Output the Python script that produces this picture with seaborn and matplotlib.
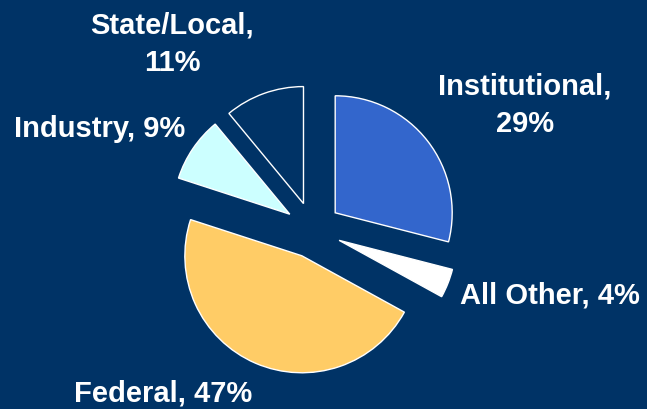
import matplotlib
matplotlib.use("Agg")
import matplotlib.pyplot as plt
import seaborn as sns

# data (clockwise from 12 o'clock)
categories = ["Institutional", "All Other", "Federal", "Industry", "State/Local"]
shares = [29, 4, 47, 9, 11]

# styling
bg = "#003366"
slice_colors = ["#3366CC", "#FFFFFF", "#FFCC66", "#CCFFFF", bg]
label_text = ["Institutional,\n29%", "All Other, 4%", "Federal, 47%",
              "Industry, 9%", "State/Local,\n11%"]
# label centres in pixels (x from left, y from top)
label_pos = [(525, 105), (550, 296), (163, 394), (100, 129), (172, 44)]

sns.set_theme(style="white")
plt.rcParams["font.family"] = ["Liberation Sans", "DejaVu Sans"]

W, H = 647, 410
fig = plt.figure(figsize=(W / 100, H / 100), dpi=100, facecolor=bg)
ax = fig.add_axes([0, 0, 1, 1])
ax.set_facecolor(bg)

ax.pie(shares, colors=slice_colors, startangle=90, counterclock=False,
       explode=[0.24] * len(shares), radius=1,
       wedgeprops=dict(edgecolor="white", linewidth=1.0))

# pie centre at (313, 231) px, radius 117 px
cx, cy, r = 313, 231, 117
ax.set_xlim(-cx / r, (W - cx) / r)
ax.set_ylim(-(H - cy) / r, cy / r)
ax.set_aspect("auto")
ax.axis("off")

for txt, (px, py) in zip(label_text, label_pos):
    fig.text(px / W, 1 - py / H, txt, ha="center", va="center",
             fontsize=21, fontweight="bold", color="white",
             linespacing=1.45, multialignment="center")

fig.savefig("out.png", dpi=100, facecolor=bg)
